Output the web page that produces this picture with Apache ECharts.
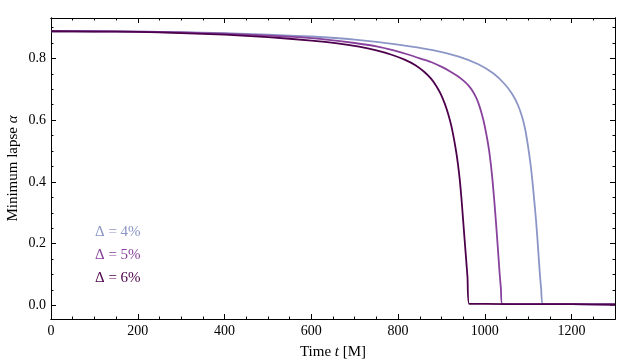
<!DOCTYPE html>
<html>
<head>
<meta charset="utf-8">
<script src="https://cdn.jsdelivr.net/npm/echarts@6/dist/echarts.min.js"></script>
<style>
html,body{margin:0;padding:0;background:#fff;}
#chart{width:634px;height:363px;}
</style>
</head>
<body>
<div id="chart"></div>
<script>
// Δ = 4 %
var t4 = [0, 100, 200, 300, 400, 500, 600, 700, 800, 880, 940, 985, 1020, 1045, 1063, 1076, 1086, 1093, 1098, 1102, 1106, 1110, 1114, 1118, 1122, 1126, 1130, 1134, 1200, 1300];
var a4 = [0.888, 0.888, 0.887, 0.885, 0.882, 0.877, 0.871, 0.861, 0.845, 0.827, 0.806, 0.781, 0.751, 0.718, 0.685, 0.650, 0.610, 0.570, 0.530, 0.492, 0.450, 0.398, 0.338, 0.275, 0.200, 0.118, 0.050, 0.005, 0.004, 0.003];
// Δ = 5 %
var t5 = [0, 100, 200, 300, 400, 500, 570, 640, 700, 750, 790, 825, 855, 880, 902, 920, 936, 950, 962, 972, 980, 986, 992, 997, 1002, 1006, 1010, 1014, 1018, 1022, 1026, 1030, 1034, 1037, 1040, 1100, 1200, 1300];
var a5 = [0.888, 0.888, 0.887, 0.884, 0.880, 0.874, 0.869, 0.860, 0.850, 0.839, 0.826, 0.812, 0.798, 0.786, 0.772, 0.758, 0.744, 0.729, 0.713, 0.694, 0.673, 0.652, 0.625, 0.598, 0.565, 0.535, 0.500, 0.455, 0.400, 0.335, 0.263, 0.185, 0.105, 0.055, 0.005, 0.004, 0.004, 0.003];
// Δ = 6 %
var t6 = [0, 100, 200, 300, 400, 500, 600, 660, 710, 750, 785, 815, 840, 860, 875, 888, 899, 908, 916, 923, 929, 934, 938, 942, 946, 950, 955, 960, 964, 1000, 1100, 1200, 1300];
var a6 = [0.888, 0.887, 0.886, 0.882, 0.877, 0.869, 0.858, 0.849, 0.838, 0.826, 0.812, 0.796, 0.778, 0.757, 0.736, 0.711, 0.683, 0.652, 0.618, 0.580, 0.538, 0.497, 0.458, 0.410, 0.348, 0.275, 0.183, 0.092, 0.005, 0.005, 0.004, 0.004, 0.003];

var names = ["Δ = 4%", "Δ = 5%", "Δ = 6%"];
var colors = ["#8c96c6", "#88419d", "#4d004b"];

var xMajor = [0, 200, 400, 600, 800, 1000, 1200];
var xMinor = [50, 100, 150, 250, 300, 350, 450, 500, 550, 650, 700, 750, 850, 900, 950, 1050, 1100, 1150, 1250];
var yMajor = [0, 0.2, 0.4, 0.6, 0.8];
var yMinor = [0.05, 0.1, 0.15, 0.25, 0.3, 0.35, 0.45, 0.5, 0.55, 0.65, 0.7, 0.75, 0.85, 0.9];

var font = "'Liberation Serif', 'DejaVu Serif', serif";

function pairs(t, a) {
    var out = [];
    for (var i = 0; i < t.length; i++) out.push([t[i], a[i]]);
    return out;
}

function xAx(pos, ticks, len, labels) {
    return {
        type: 'value', position: pos, min: 0, max: 1300,
        axisLine: {show: true, onZero: false, lineStyle: {color: '#000', width: 1}},
        axisTick: {show: true, inside: true, length: len, customValues: ticks, lineStyle: {color: '#000', width: 1}},
        axisLabel: labels ? {show: true, customValues: xMajor, margin: 5, color: '#000', fontSize: 14, fontFamily: font,
            formatter: function (v) { return String(v); }} : {show: false},
        splitLine: {show: false}
    };
}
function yAx(pos, ticks, len, labels) {
    return {
        type: 'value', position: pos, min: -0.044, max: 0.931,
        axisLine: {show: true, onZero: false, lineStyle: {color: '#000', width: 1}},
        axisTick: {show: true, inside: true, length: len, customValues: ticks, lineStyle: {color: '#000', width: 1}},
        axisLabel: labels ? {show: true, customValues: yMajor, margin: 5, color: '#000', fontSize: 14, fontFamily: font,
            formatter: function (v) { return v.toFixed(1); }} : {show: false},
        splitLine: {show: false}
    };
}

var xAxes = [xAx('bottom', xMajor, 5, true), xAx('bottom', xMinor, 2.5, false), xAx('top', xMajor, 5, false), xAx('top', xMinor, 2.5, false)];
xAxes[0].name = '{n|Time }{i|t}{n| [M]}';
xAxes[0].nameLocation = 'middle';
xAxes[0].nameGap = 26;
xAxes[0].nameTextStyle = {rich: {n: {fontSize: 15, fontFamily: font, color: '#000'}, i: {fontSize: 15, fontFamily: font, fontStyle: 'italic', color: '#000'}}};

var yAxes = [yAx('left', yMajor, 5, true), yAx('left', yMinor, 2.5, false), yAx('right', yMajor, 5, false), yAx('right', yMinor, 2.5, false)];
yAxes[0].name = '{n|Minimum lapse }{i|α}';
yAxes[0].nameLocation = 'middle';
yAxes[0].nameGap = 30;
yAxes[0].nameMoveOverlap = false;
yAxes[0].nameTextStyle = {rich: {n: {fontSize: 15, fontFamily: font, color: '#000'}, i: {fontSize: 15, fontFamily: font, fontStyle: 'italic', color: '#000'}}};

var series = [];
var allData = [pairs(t4, a4), pairs(t5, a5), pairs(t6, a6)];
for (var k = 0; k < 3; k++) {
    series.push({
        name: names[k], type: 'line', data: allData[k],
        xAxisIndex: 0, yAxisIndex: 0,
        showSymbol: false, smooth: 0.2,
        lineStyle: {color: colors[k], width: 1.8}, itemStyle: {color: colors[k]},
        z: 3 + k
    });
}

var chart = echarts.init(document.getElementById('chart'), null, {renderer: 'canvas'});
chart.setOption({
    animation: false,
    backgroundColor: '#fff',
    grid: {left: 51, right: 19, top: 18, bottom: 44, containLabel: false, outerBoundsMode: 'none'},
    legend: {
        orient: 'vertical', left: 85, top: 220, itemGap: 8, icon: 'none', itemWidth: 0, itemHeight: 14,
        selectedMode: false,
        data: names.map(function (n, i) { return {name: n, textStyle: {color: colors[i], fontSize: 15, fontFamily: font}}; })
    },
    xAxis: xAxes,
    yAxis: yAxes,
    series: series
});
</script>
</body>
</html>
